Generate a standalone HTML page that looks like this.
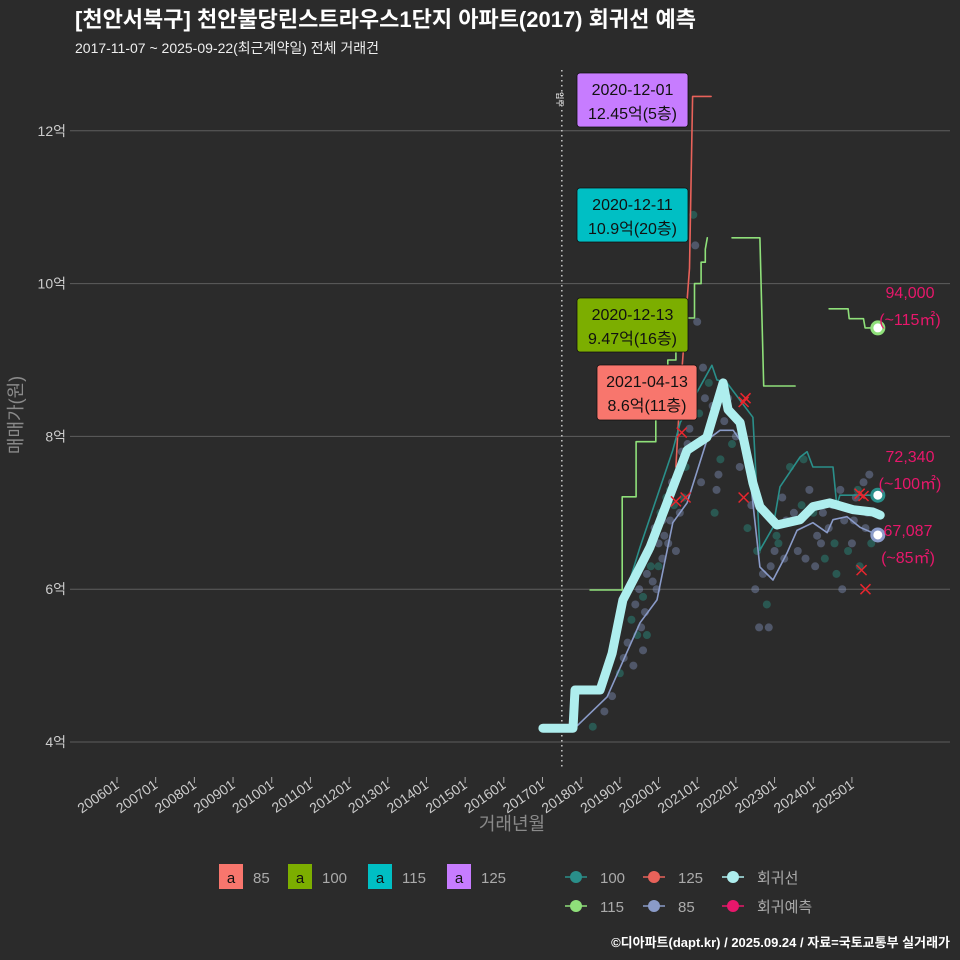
<!DOCTYPE html>
<html><head><meta charset="utf-8">
<style>
body{margin:0;background:#2b2b2b;}
svg{display:block;font-family:"Liberation Sans","Noto Sans CJK KR",sans-serif;}
</style></head>
<body>
<svg id="c" width="960" height="960" viewBox="0 0 960 960" xmlns="http://www.w3.org/2000/svg">
<rect width="960" height="960" fill="#2b2b2b"/>
<text x="75" y="27" fill="#fff" font-size="22" font-weight="bold">[천안서북구] 천안불당린스트라우스1단지 아파트(2017) 회귀선 예측</text>
<text x="75" y="53" fill="#eee" font-size="14">2017-11-07 ~ 2025-09-22(최근계약일) 전체 거래건</text>
<g id="grid"></g><g id="marks"></g><g id="ann"></g>
<text transform="translate(22,415) rotate(-90)" text-anchor="middle" fill="#8a8a8a" font-size="18">매매가(원)</text>
<text x="512" y="830" text-anchor="middle" fill="#8a8a8a" font-size="18">거래년월</text>
<text x="950" y="947" text-anchor="end" fill="#fff" font-size="13" font-weight="bold">©디아파트(dapt.kr) / 2025.09.24 / 자료=국토교통부 실거래가</text>
<g id="legend"></g>
</svg>
<script>
const yTicks=[4,6,8,10,12];
const xTickYears=[2006,2007,2008,2009,2010,2011,2012,2013,2014,2015,2016,2017,2018,2019,2020,2021,2022,2023,2024,2025];
const regT=[2017.01,2017.79,2017.84,2018.49,2018.80,2019.08,2019.52,2019.78,2020.22,2020.74,2021.25,2021.67,2021.80,2022.11,2022.44,2022.62,2023.06,2023.66,2023.99,2024.43,2025.03,2025.54,2025.73];
const regV=[4.18,4.18,4.68,4.68,5.16,5.86,6.29,6.55,7.13,7.82,7.99,8.70,8.35,8.18,7.39,7.08,6.84,6.91,7.08,7.13,7.04,7.01,6.97];
const s85T=[2017.79,2018.67,2019.52,2019.96,2020.37,2020.74,2021.25,2021.59,2021.93,2022.29,2022.62,2022.96,2023.32,2023.58,2023.99,2024.36,2024.51,2024.87,2025.21,2025.67];
const s85V=[4.16,4.59,5.56,5.86,6.87,7.13,7.95,8.08,8.08,7.82,6.29,6.12,6.47,6.77,6.87,6.74,6.91,6.95,6.81,6.71];
const s100T=[2019.18,2019.52,2020.37,2020.56,2021.38,2021.51,2021.77,2022.44,2022.62,2022.96,2023.14,2023.66,2023.84,2023.99,2024.51,2024.61,2024.69,2025.67];
const s100V=[5.99,6.55,7.82,8.18,8.93,8.74,8.70,8.25,6.51,6.81,7.34,7.73,7.80,7.60,7.60,7.10,7.23,7.23];
const s115T=[2018.23,2019.06,2019.06,2019.42,2019.42,2019.93,2019.93,2020.24,2020.24,2020.45,2020.45,2020.85,2020.93,2020.93,2021.10,2021.10,2021.21,2021.21,2021.26,null,2021.90,2022.62,2022.72,2023.53,null,2024.41,2024.90,2024.93,2025.30,2025.34,2025.67];
const s115V=[5.99,5.99,7.21,7.21,7.93,7.93,8.67,8.67,9.00,9.00,9.55,9.55,9.55,10.0,10.0,10.28,10.28,10.45,10.6,null,10.6,10.6,8.66,8.66,null,9.67,9.67,9.54,9.54,9.42,9.42];
const s125T=[2020.45,2020.55,2020.80,2020.88,2021.36];
const s125V=[7.6,8.5,10.2,12.45,12.45];
const dotT=[2018.3,2018.6,2018.8,2019.0,2019.1,2019.2,2019.3,2019.35,2019.4,2019.45,2019.5,2019.55,2019.6,2019.7,2019.75,2019.8,2019.9,2020.0,2020.05,2020.1,2020.15,2020.2,2020.3,2020.35,2020.4,2020.5,2020.6,2020.7,2020.8,2020.85,2020.9,2020.95,2021.0,2021.05,2021.1,2021.2,2021.3,2021.4,2021.5,2021.6,2021.7,2021.8,2021.9,2022.0,2022.1,2022.3,2022.5,2022.6,2022.8,2022.9,2023.0,2023.1,2023.2,2023.3,2023.4,2023.5,2023.6,2023.7,2023.8,2023.9,2024.0,2024.1,2024.2,2024.3,2024.4,2024.5,2024.6,2024.7,2024.8,2024.9,2025.0,2025.1,2025.2,2025.3,2025.4,2025.5,2019.6,2019.65,2019.7,2019.85,2019.95,2020.0,2020.1,2020.25,2020.3,2020.45,2020.55,2020.65,2020.75,2021.15,2021.45,2021.55,2022.4,2022.55,2022.7,2022.85,2023.05,2023.25,2023.45,2023.75,2024.05,2024.25,2024.55,2024.75,2025.05,2025.15,2025.35,2025.45];
const dotV=[4.2,4.4,4.6,4.9,5.1,5.3,5.6,5.0,5.8,5.4,6.0,5.5,5.9,6.2,6.5,6.3,6.8,6.6,7.0,6.4,6.7,7.2,6.9,7.4,7.1,7.5,7.8,7.6,8.1,8.6,10.9,10.5,9.5,8.3,7.4,8.5,8.7,8.4,7.3,7.7,8.2,8.5,7.9,8.0,7.6,6.8,6.0,5.5,5.8,6.3,6.5,6.6,7.2,6.9,7.6,7.0,6.5,7.1,6.4,7.3,7.0,6.7,6.6,6.4,6.8,7.1,6.2,7.3,6.9,6.5,6.6,7.2,6.3,7.4,7.0,6.6,5.2,5.7,5.4,6.1,6.0,6.3,6.9,6.6,7.3,6.5,7.0,7.2,7.9,8.9,7.0,7.5,7.1,6.5,6.2,5.5,6.7,6.4,6.9,7.7,6.3,7.0,6.6,6.0,6.9,7.3,6.8,7.5];
const xT=[2020.45,2020.6,2020.7,2022.2,2022.2,2022.25,2025.2,2025.25,2025.35,2025.3];
const xV=[7.15,8.05,7.2,8.45,7.2,8.5,7.25,6.25,6.0,7.22];

const xOf=t=>117+(t-2006)*38.68;
const yOf=v=>742-(v-4)*76.4;
const NS="http://www.w3.org/2000/svg";
function mk(tag,attrs,parent){const e=document.createElementNS(NS,tag);for(const k in attrs)e.setAttribute(k,attrs[k]);parent.appendChild(e);return e;}
const grid=document.getElementById('grid'),marks=document.getElementById('marks'),ann=document.getElementById('ann'),leg=document.getElementById('legend');

yTicks.forEach(v=>{
 const l=mk('line',{x1:70,x2:950,y1:yOf(v),y2:yOf(v),stroke:'#5e5e5e','stroke-width':1},grid);
 
 
 const t=mk('text',{x:66,y:yOf(v)+5,'text-anchor':'end',fill:'#ccc','font-size':14},grid);
 t.textContent=v+'억';
 
 
});
xTickYears.forEach(yr=>{
 const x=xOf(yr);
 const l=mk('line',{x1:x,x2:x,y1:777,y2:783,stroke:'#aaa'},grid);
 
 
 const t=mk('text',{transform:`translate(${x+3},787) rotate(-35)`,'text-anchor':'end',fill:'#ccc','font-size':14},grid);
 t.textContent=yr+'01';
 
 
});
const dl=mk('line',{x1:xOf(2017.5),x2:xOf(2017.5),y1:70,y2:770,stroke:'#ccc','stroke-dasharray':'1.5 3.5','stroke-width':1.5},grid);


const mi=mk('text',{transform:`translate(${xOf(2017.5)-5},92) rotate(90)`,fill:'#fff','font-size':8},grid);
mi.textContent='입주';



dotT.forEach((t,i)=>{
 const c=mk('circle',{cx:xOf(t),cy:yOf(dotV[i]),r:4,fill:i%3===0?'#2a9d8f':'#8a9bc8','fill-opacity':0.4},marks);
 
 
});
function path(T,V,color,w,name){
 let d='',pen=false;
 T.forEach((t,i)=>{if(t===null){pen=false;return;}d+=(pen?'L':'M')+xOf(t).toFixed(1)+','+yOf(V[i]).toFixed(1);pen=true;});
 const p=mk('path',{d:d,fill:'none',stroke:color,'stroke-width':w,'stroke-linejoin':'round','stroke-linecap':'round'},marks);
 
 
}
path(s125T,s125V,'#e8625a',1.6,'line-125');
path(s115T,s115V,'#8fe07a',1.6,'line-115');
path(s100T,s100V,'#2a8f8a',1.6,'line-100');
path(s85T,s85V,'#8a9bc8',1.6,'line-85');
path(regT,regV,'#aeeeee',9,'regression-line');
xT.forEach((t,i)=>{
 const x=xOf(t),y=yOf(xV[i]);
 const g=mk('path',{d:`M${x-5},${y-5}L${x+5},${y+5}M${x-5},${y+5}L${x+5},${y-5}`,stroke:'#e8262e','stroke-width':1.5},marks);
 
 
});
[[9.42,'#8fe07a'],[7.23,'#2a8f8a'],[6.71,'#8a9bc8']].forEach(([v,c])=>{
 const e=mk('circle',{cx:xOf(2025.67),cy:yOf(v),r:6,fill:'#fff',stroke:c,'stroke-width':3},marks);
 
 
});

function box(x,y,w,h,fill,l1,l2,name){
 const r=mk('rect',{x:x,y:y,width:w,height:h,rx:3,fill:fill,stroke:'#111','stroke-width':0.8},ann);
 
 
 const t1=mk('text',{x:x+w/2,y:y+22,'text-anchor':'middle',fill:'#111','font-size':16},ann);t1.textContent=l1;
 
 
 const t2=mk('text',{x:x+w/2,y:y+46,'text-anchor':'middle',fill:'#111','font-size':16},ann);t2.textContent=l2;
 
 
}
box(577,73,111,54,'#c77cff','2020-12-01','12.45억(5층)','max-label-125');
box(577,188,111,54,'#00bfc4','2020-12-11','10.9억(20층)','max-label-115');
box(577,298,111,54,'#7cae00','2020-12-13','9.47억(16층)','max-label-100');
box(597,365,100,55,'#f8766d','2021-04-13','8.6억(11층)','max-label-85');
[[910,298,'94,000'],[910,325,'(~115㎡)'],[910,462,'72,340'],[910,489,'(~100㎡)'],[908,536,'67,087'],[908,563,'(~85㎡)']].forEach(([x,y,s])=>{
 const t=mk('text',{x:x,y:y,'text-anchor':'middle',fill:'#e8176b','font-size':16},ann);t.textContent=s;
 
 
});

[['#f8766d','85',219],['#7cae00','100',288],['#00bfc4','115',368],['#c77cff','125',447]].forEach(([c,l,x])=>{
 const r=mk('rect',{x:x,y:864,width:24,height:25,fill:c},leg);
 
 
 const a=mk('text',{x:x+12,y:883,'text-anchor':'middle',fill:'#111','font-size':15},leg);a.textContent='a';
 const t=mk('text',{x:x+34,y:883,fill:'#aaa','font-size':15},leg);t.textContent=l;
 
 
});
[['#2a8f8a','100',576,877],['#8fe07a','115',576,906],['#e8625a','125',654,877],['#8a9bc8','85',654,906],['#aeeeee','회귀선',733,877],['#e8176b','회귀예측',733,906]].forEach(([c,l,x,y])=>{
 const ln=mk('line',{x1:x-11,x2:x+11,y1:y,y2:y,stroke:c,'stroke-width':1.5},leg);
 
 
 mk('circle',{cx:x,cy:y,r:6,fill:c},leg);
 const t=mk('text',{x:x+24,y:y+6,fill:'#aaa','font-size':15},leg);t.textContent=l;
 
 
});
</script>
</body></html>
